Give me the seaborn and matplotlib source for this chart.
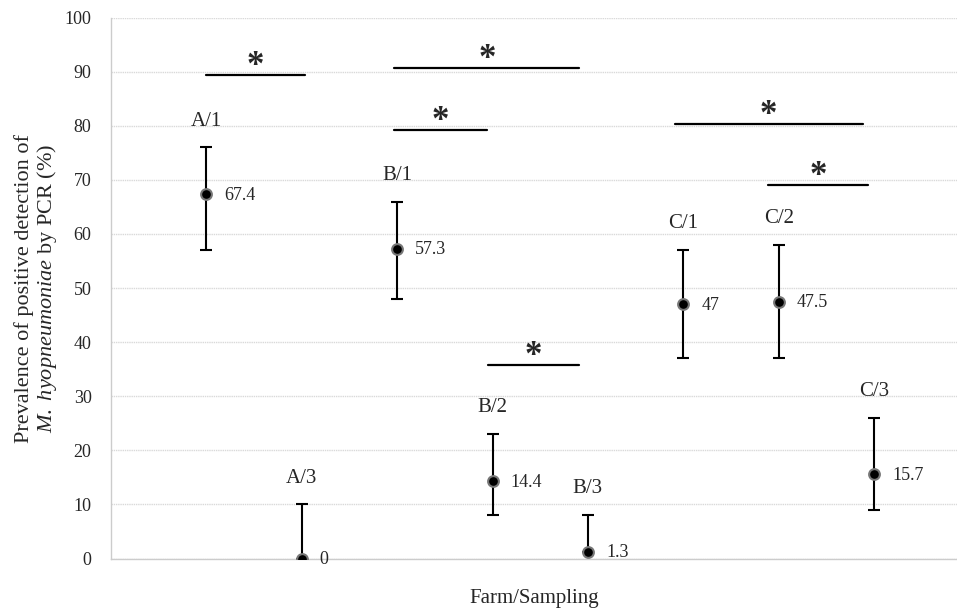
import matplotlib
matplotlib.use("Agg")
import matplotlib.pyplot as plt
import seaborn as sns
import numpy as np
import pandas as pd

# data
groups = ["A/1", "A/3", "B/1", "B/2", "B/3", "C/1", "C/2", "C/3"]
prevalence = [67.4, 0, 57.3, 14.4, 1.3, 47, 47.5, 15.7]
upper = [76, 10, 66, 23, 8, 57, 58, 26]
lower = [57, 0, 48, 8, 1.3, 37, 37, 9]
value_labels = ["67.4", "0", "57.3", "14.4", "1.3", "47", "47.5", "15.7"]

# significance bars (x in category positions, y in %)
sig_x0 = [1.0, 2.97, 2.97, 3.95, 5.91, 6.89]
sig_x1 = [2.03, 4.91, 3.94, 4.91, 7.88, 7.94]
sig_y = [89.4, 90.7, 79.3, 35.8, 80.4, 69.1]

pos = np.arange(1, len(groups) + 1)
df = pd.DataFrame({"pos": pos, "prev": prevalence, "group": groups})

sns.set_theme(style="whitegrid")
plt.rcParams["font.family"] = ["Liberation Serif", "DejaVu Serif"]
plt.rcParams["mathtext.fontset"] = "custom"
plt.rcParams["mathtext.rm"] = "Liberation Serif"
plt.rcParams["mathtext.it"] = "Liberation Serif:italic"

fig = plt.figure(figsize=(9.57, 6.13), dpi=100)
ax = fig.add_axes([0.116, 0.0888, 0.884, 0.8825])

yerr = np.array([np.array(prevalence) - np.array(lower),
                 np.array(upper) - np.array(prevalence)])
ax.errorbar(pos, prevalence, yerr=yerr, fmt="none", ecolor="black",
            elinewidth=1.5, capsize=4, capthick=1.5, zorder=2)
sns.scatterplot(data=df, x="pos", y="prev", ax=ax, color="black", s=60,
                edgecolor="#777777", linewidth=1.5, zorder=3, legend=False)

for p, v, u, g, lab in zip(pos, prevalence, upper, groups, value_labels):
    ax.annotate(g, (p, u), xytext=(0, 19), textcoords="offset points",
                ha="center", va="center", fontsize=15)
    ax.annotate(lab, (p, v), xytext=(13, -1), textcoords="offset points",
                ha="left", va="center", fontsize=13)

for x0, x1, y in zip(sig_x0, sig_x1, sig_y):
    ax.plot([x0, x1], [y, y], color="black", lw=1.6, zorder=2)
    ax.text((x0 + x1) / 2, y - 1.5, "*", ha="center", va="bottom",
            fontsize=25, fontweight="bold")

ax.set_xlim(0, 8.87)
ax.set_ylim(0, 100)
ax.set_yticks(range(0, 101, 10))
ax.set_xticks([])
ax.tick_params(axis="y", labelsize=13, pad=14, length=0)
ax.grid(axis="y", color="#d9d9d9", linestyle=(0, (1, 0.6)), linewidth=1)
ax.grid(axis="x", visible=False)
for side in ["top", "right"]:
    ax.spines[side].set_visible(False)
for side in ["left", "bottom"]:
    ax.spines[side].set_color("#cccccc")
    ax.spines[side].set_linewidth(1)

ax.set_xlabel("Farm/Sampling", fontsize=15, labelpad=22)
ax.set_ylabel("Prevalence of positive detection of\n"
              r"$\mathit{M.\ hyopneumoniae}$ by PCR (%)", fontsize=16,
              labelpad=4, linespacing=1.05)

fig.savefig("out.png", dpi=100)
